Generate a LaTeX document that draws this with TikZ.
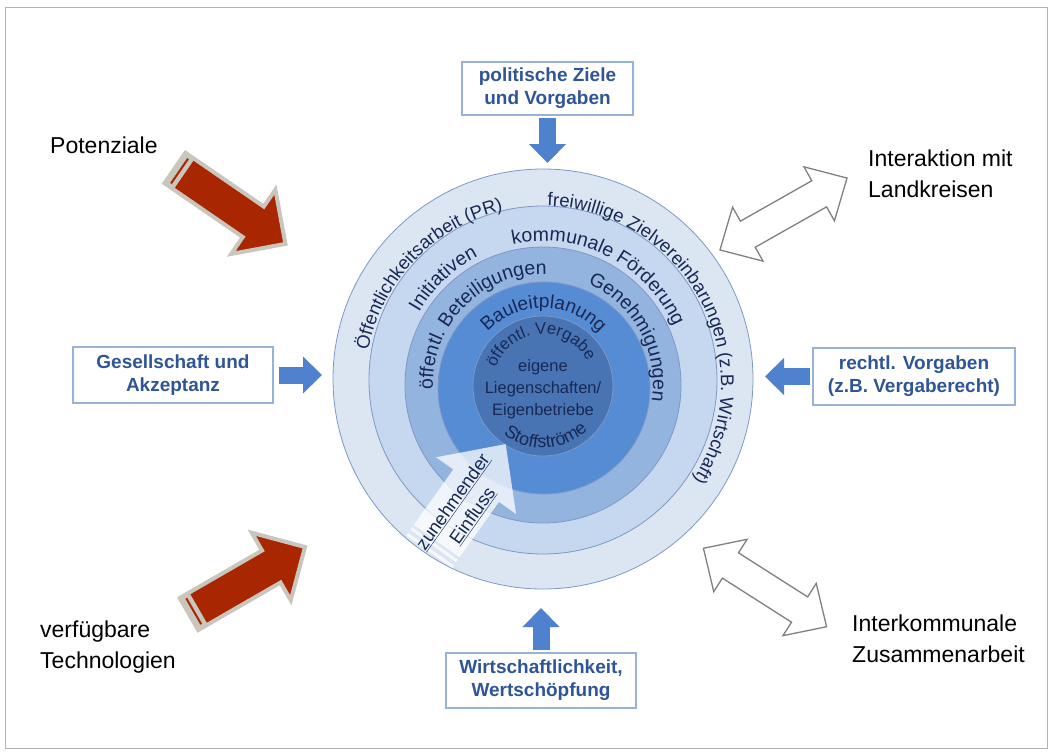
\documentclass[tikz,border=0pt]{standalone}
\usepackage{fontspec}
\setmainfont{Liberation Sans}
\usetikzlibrary{arrows.meta,decorations.text,calc,positioning}

\definecolor{ringA}{RGB}{220,230,243}
\definecolor{ringB}{RGB}{198,216,240}
\definecolor{ringC}{RGB}{148,180,224}
\definecolor{ringD}{RGB}{86,140,212}
\definecolor{ringE}{RGB}{72,116,180}
\definecolor{ringline}{RGB}{125,152,196}
\definecolor{ringtext}{RGB}{24,40,84}
\definecolor{boxtext}{RGB}{47,85,151}
\definecolor{boxline}{RGB}{150,178,214}
\definecolor{bluearr}{RGB}{78,129,206}
\definecolor{redarr}{RGB}{168,38,0}
\definecolor{redrim}{RGB}{201,198,189}
\definecolor{dblline}{RGB}{128,128,128}

% text along a ring: radius, mid angle, half span, font size, text
\newcommand{\ringlabel}[5]{%
  \path[decorate, decoration={text along path, text align=center,
      text={|\fontsize{#4}{#4}\selectfont\color{ringtext}|#5}}]
    ($(C)+(#2+#3:#1)$) arc[start angle=#2+#3, end angle=#2-#3, radius=#1];
}

\tikzset{
  ring/.style={fill=#1, draw=ringline, line width=0.8pt},
  infobox/.style={draw=boxline, line width=1.2pt, fill=white, align=center,
    text=boxtext, font=\fontsize{19}{23}\selectfont\bfseries, inner sep=0pt},
  bluearrow/.style={draw=bluearr, line width=17pt,
    -{Triangle[length=19pt,width=36pt]}},
  sidetext/.style={align=left, anchor=west, inner sep=0pt,
    font=\fontsize{23}{31}\selectfont},
  redarrow/.style={fill=redarr, draw=redrim, line width=4pt, line join=miter},
  dblarrow/.style={fill=white, draw=dblline, line width=1.3pt, line join=miter}
}

\begin{document}
\begin{tikzpicture}[x=1pt, y=1pt]
    \useasboundingbox (0,0) rectangle (1053,-753);
    \draw[gray!60, line width=0.8pt] (5,-7) rectangle (1047,-748);

    % ---------------- rings ----------------
    \coordinate (C) at (543,-384);
    \draw[ring=ringA] (543,-379) circle[radius=210];
    \draw[ring=ringB] (543,-380) circle[radius=174];
    \draw[ring=ringC] (543,-385) circle[radius=138];
    \draw[ring=ringD] (544,-388) circle[radius=106];
    \draw[ring=ringE] (543,-386) circle[radius=70];

    % ---------------- increasing influence ----------------
    \begin{scope}[shift={(424,-559)}, rotate=54.6]
        \fill[white, opacity=0.75] (22,28) -- (90,28) -- (90,49) -- (141,0)
            -- (90,-49) -- (90,-28) -- (22,-28) -- cycle;
        \foreach \s in {2,9,16} {
            \fill[white, opacity=0.75] (\s,-28) rectangle (\s+3,28);
        }
    \end{scope}
    \node[rotate=54.6, text=ringtext, align=center, inner sep=0pt,
        font=\fontsize{18.5}{24}\selectfont] (einfl) at (463,-509)
        {\underline{zunehmender}\\\underline{Einfluss}};

    % ---------------- ring texts ----------------
    \ringlabel{178}{136}{60}{18.5}{Öffentlichkeitsarbeit (PR)}
    \ringlabel{178}{28}{78}{18.5}{freiwillige Zielvereinbarungen (z.B. Wirtschaft)}
    \ringlabel{143}{133.5}{30}{19.5}{Initiativen}
    \ringlabel{143}{63}{50}{19.5}{kommunale Förderung}
    \ringlabel{110}{135.5}{60}{19.5}{öffentl. Beteiligungen}
    \ringlabel{110}{28.5}{50}{19.5}{Genehmigungen}
    \ringlabel{76}{89.5}{70}{19}{Bauleitplanung}
    \ringlabel{50}{94}{85}{16.5}{öffentl. Vergabe}
    \path[decorate, decoration={text along path, text align=center,
        text={|\fontsize{18}{18}\selectfont\color{ringtext}|Stoffströme}}]
        ($(C)+(-167:64)$) arc[start angle=-167, end angle=-7, radius=64];
    \node[align=center, text=ringtext, font=\fontsize{16.5}{22}\selectfont]
        (eigen) at (543,-389) {eigene\\Liegenschaften/\\Eigenbetriebe};

    % ---------------- boxes and blue arrows ----------------
    \node[infobox, minimum width=171, minimum height=53] (polit) at (547.5,-88.5)
        {politische Ziele\\und Vorgaben};
    \node[infobox, minimum width=200, minimum height=56] (gesell) at (173,-375)
        {Gesellschaft und\\Akzeptanz};
    \node[infobox, minimum width=202, minimum height=57] (recht) at (914,-376.5)
        {rechtl. Vorgaben\\(z.B. Vergaberecht)};
    \node[infobox, minimum width=190, minimum height=55] (wirt) at (541,-680.5)
        {Wirtschaftlichkeit,\\Wertschöpfung};

    \coordinate (intop) at (547.5,-163);
    \coordinate (inleft) at (322,-375);
    \coordinate (inright) at (765,-376.5);
    \coordinate (inbottom) at (541,-608);
    \draw[bluearrow, shorten <=2pt] (polit) -- (intop);
    \draw[bluearrow, shorten <=5pt] (gesell) -- (inleft);
    \draw[bluearrow, shorten <=2pt] (recht) -- (inright);
    \draw[bluearrow, shorten <=2pt] (wirt) -- (inbottom);

    % ---------------- red arrows ----------------
    \foreach \px/\py/\ang in {175/-168/-34.5, 189/-614/30} {
        \begin{scope}[shift={(\px,\py)}, rotate=\ang]
            \draw[redarrow] (0,18.5) -- (95,18.5) -- (95,39) -- (134,0)
                -- (95,-39) -- (95,-18.5) -- (0,-18.5) -- cycle;
            \fill[redrim] (0,-18.5) rectangle (11,18.5);
            \draw[redarr, line width=2pt] (5.5,-15) -- (5.5,15);
        \end{scope}
    }

    % ---------------- double arrows ----------------
    \foreach \px/\py/\ang in {783.5/-214/29.5, 765/-587.5/-32.5} {
        \begin{scope}[shift={(\px,\py)}, rotate=\ang]
            \draw[dblarrow] (-73,0) -- (-41,31) -- (-41,15) -- (41,15) -- (41,31)
                -- (73,0) -- (41,-31) -- (41,-15) -- (-41,-15) -- (-41,-31) -- cycle;
        \end{scope}
    }

    % ---------------- outer labels ----------------
    \node[sidetext] (potenz) at (50,-145) {Potenziale};
    \node[sidetext] (landkr) at (868,-174) {Interaktion mit\\Landkreisen};
    \node[sidetext] (tech) at (40,-647) {verfügbare\\Technologien};
    \node[sidetext] (interkom) at (852,-639) {Interkommunale\\Zusammenarbeit};

\end{tikzpicture}
\end{document}
